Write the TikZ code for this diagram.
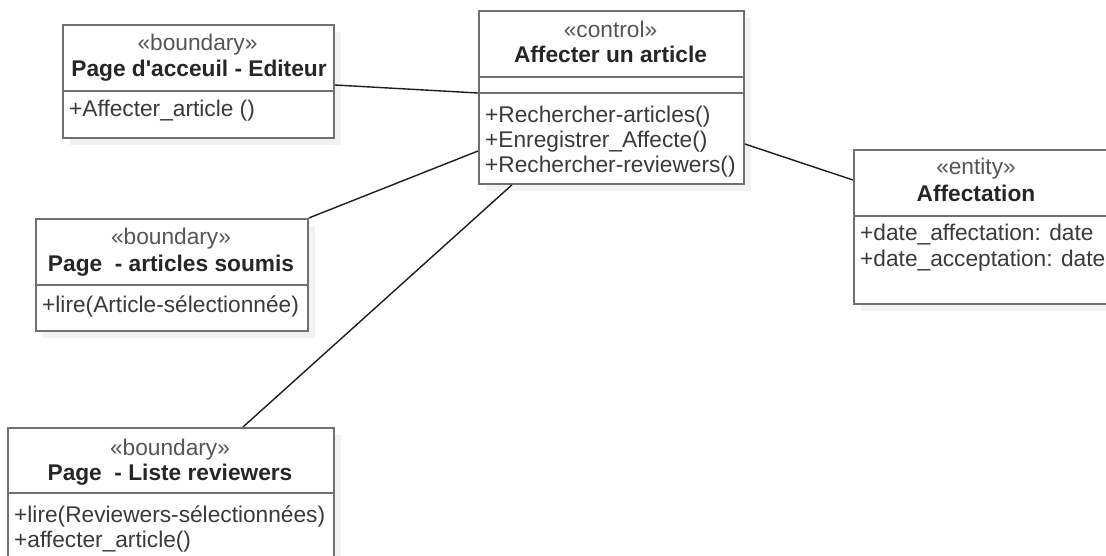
\documentclass[tikz,border=0pt]{standalone}
\usepackage{fontspec}
\setmainfont{Liberation Sans}
\usetikzlibrary{shadows}
\definecolor{boxgray}{HTML}{707070}
\definecolor{titlecol}{HTML}{262626}
\definecolor{stereocol}{HTML}{555555}
\definecolor{membercol}{HTML}{3A3A3A}
\definecolor{linkcol}{HTML}{1E1E1E}
\begin{document}
\begin{tikzpicture}[x=1pt,y=-1pt,
  font=\fontsize{22.7}{25}\selectfont,
  classbox/.style={draw=boxgray, line width=1.8pt, fill=white, anchor=north west,
    inner sep=0pt, drop shadow={shadow xshift=7pt, shadow yshift=-7pt, fill=black!5, opacity=1}},
  divider/.style={draw=boxgray, line width=1.8pt},
  stereo/.style={anchor=base, text=stereocol, inner sep=0pt},
  cname/.style={anchor=base, text=titlecol, font=\fontsize{22.7}{25}\selectfont\bfseries, inner sep=0pt},
  member/.style={anchor=base west, text=membercol, inner sep=0pt},
  link/.style={draw=linkcol, line width=1.4pt}]
\useasboundingbox (0,0) rectangle (1106,556);
\fill[white] (0,0) rectangle (1106,556);

% boundary: Page d'accueil - Editeur
\node[classbox, minimum width=271pt, minimum height=113pt] (acc) at (62,24) {};
\draw[divider] (acc.west |- 0,91) -- (acc.east |- 0,91);
\node[stereo] (accS) at (197.5,51) {«boundary»};
\node[cname] (accN) at (199,77) {Page d\textquotesingle acceuil - Editeur};
\node[member] (accM) at (69,117) {+Affecter\_article ()};

% control: Affecter un article
\node[classbox, minimum width=265pt, minimum height=173pt] (ctl) at (478,10) {};
\draw[divider] (ctl.west |- 0,77) -- (ctl.east |- 0,77);
\draw[divider] (ctl.west |- 0,93) -- (ctl.east |- 0,93);
\node[stereo] (ctlS) at (610.5,38) {«control»};
\node[cname] (ctlN) at (610.5,63) {Affecter un article};
\node[member] (ctlM1) at (485,123) {+Rechercher-articles()};
\node[member] (ctlM2) at (485,148) {+Enregistrer\_Affecte()};
\node[member] (ctlM3) at (485,173) {+Rechercher-reviewers()};

% entity: Affectation
\node[classbox, minimum width=270pt, minimum height=154pt] (aff) at (853,149) {};
\draw[divider] (aff.west |- 0,216) -- (aff.east |- 0,216);
\node[stereo] (affS) at (976,175) {«entity»};
\node[cname] (affN) at (976,202) {Affectation};
\node[member] (affM1) at (860,241) {+date\_affectation: date};
\node[member] (affM2) at (860,266) {+date\_acceptation: date};

% boundary: Page - articles soumis
\node[classbox, minimum width=272pt, minimum height=112pt] (sou) at (35,218) {};
\draw[divider] (sou.west |- 0,285) -- (sou.east |- 0,285);
\node[stereo] (souS) at (171,245) {«boundary»};
\node[cname] (souN) at (171,272) {Page\ \ - articles soumis};
\node[member] (souM) at (42,312) {+lire(Article-sélectionnée)};

% boundary: Page - Liste reviewers
\node[classbox, minimum width=326pt, minimum height=145pt] (rev) at (7,427) {};
\draw[divider] (rev.west |- 0,493) -- (rev.east |- 0,493);
\node[stereo] (revS) at (170,455) {«boundary»};
\node[cname] (revN) at (170,480) {Page\ \ - Liste reviewers};
\node[member] (revM1) at (14,522) {+lire(Reviewers-sélectionnées)};
\node[member] (revM2) at (14,547) {+affecter\_article()};

% associations
\draw[link] ([yshift=-61pt]acc.north east) -- ([yshift=-83pt]ctl.north west);
\draw[link] (sou.north east) -- ([yshift=-141pt]ctl.north west);
\draw[link] ([xshift=236pt]rev.north west) -- ([xshift=34pt]ctl.south west);
\draw[link] ([yshift=-134pt]ctl.north east) -- ([yshift=-31pt]aff.north west);
\end{tikzpicture}
\end{document}
